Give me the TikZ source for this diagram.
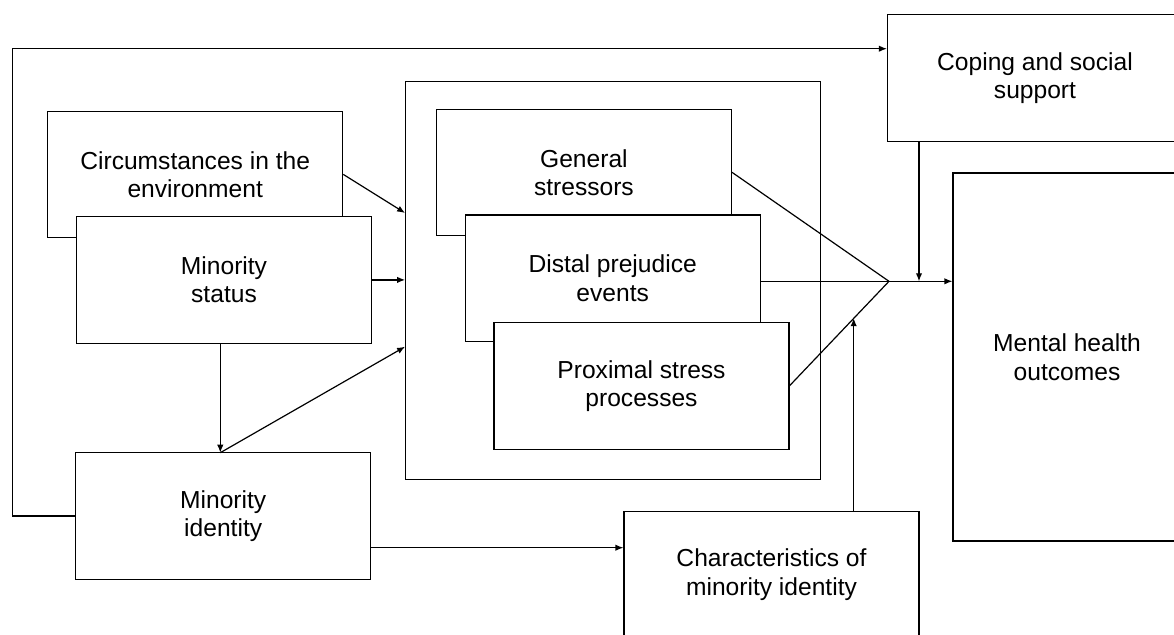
\documentclass[tikz,border=0pt]{standalone}
\usepackage{fontspec}
\setmainfont{Liberation Sans}
\usetikzlibrary{arrows.meta}

\begin{document}
\begin{tikzpicture}[x=0.5pt,y=-0.5pt,line cap=butt,line join=miter,line width=0.6pt,>={Latex[length=4pt,width=3.2pt]}]
	\tikzset{box/.style={draw,fill=white,align=center,inner sep=0pt,
			minimum width=147.5pt,minimum height=63.2pt,font=\fontsize{12.3}{14.2}\selectfont}}
	\useasboundingbox (0,0) rectangle (1174,634);
	\clip (0,0) rectangle (1174,634);
	% stress boxes inside the frame
	\node[box,minimum width=207.5pt,minimum height=198.7pt] (frame) at (613.2,280.4) {};
	\node[box] (gen) at (583.9,172.4) {General\\stressors};
	\node[box] (dist) at (612.7,278.2) {Distal prejudice\\events};
	\node[box] (prox) at (641.5,386) {Proximal stress\\processes};
	% left column
	\node[box] (circ) at (195.2,174.4) {Circumstances in the\\environment};
	\node[box] (stat) at (224,279.9) {Minority\\status};
	\node[box] (ident) at (223.2,515.9) {Minority\\identity};
	% right side
	\node[box] (coping) at (1035,78) {Coping and social\\support};
	\node[box,minimum width=114pt,minimum height=184pt] (mental) at (1067,357) {Mental health\\outcomes};
	\node[box] (charid) at (771.5,574.5) {Characteristics of\\minority identity};
	\coordinate (split) at (220.3,452.7);
	\coordinate (join) at (889,281.3);
	\draw[->] (ident.west) -- (12.3,515.9) |- (coping.west |- 0,48.7);
	\draw[->] (circ.east) -- (frame.west |- 0,213);
	\draw[->] (stat.east) -- (frame.west |- stat.east);
	\draw[->] (stat.south -| split) -- (split);
	\draw[->] (split) -- (frame.west |- 0,346.7);
	\draw[->] (ident.east |- 0,547.7) -- (charid.west |- 0,547.7);
	\draw[->] (charid.north -| 853.7,0) -- (853.7,318.2);
	\draw (gen.east |- 0,172.3) -- (join);
	\draw (dist.east |- join) -- (join);
	\draw (prox.east |- 0,385.7) -- (join);
	\draw[->] (join) -- (mental.west |- join);
	\draw[->] (coping.south -| 919,0) -- (919,281.3);
\end{tikzpicture}
\end{document}
